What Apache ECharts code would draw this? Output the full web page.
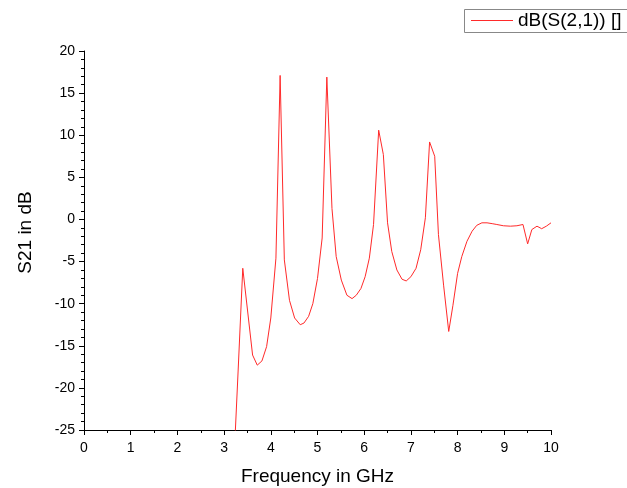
<!DOCTYPE html>
<html>
<head>
<meta charset="utf-8">
<script src="https://cdn.jsdelivr.net/npm/echarts@6/dist/echarts.min.js"></script>
<style>html,body{margin:0;padding:0;background:#fff}#c{width:627px;height:488px}</style>
</head>
<body>
<div id="c"></div>
<script>
var seriesName = 'dB(S(2,1)) []';
var freqGHz = [3.2, 3.3, 3.4, 3.61, 3.71, 3.81, 3.91, 4.0, 4.11, 4.2, 4.29, 4.4, 4.51, 4.63, 4.71, 4.81, 4.9, 5.0, 5.1, 5.2, 5.31, 5.4, 5.51, 5.63, 5.74, 5.83, 5.93, 6.02, 6.11, 6.2, 6.31, 6.41, 6.5, 6.59, 6.7, 6.81, 6.9, 7.0, 7.11, 7.21, 7.31, 7.4, 7.51, 7.59, 7.7, 7.81, 7.9, 8.0, 8.09, 8.2, 8.31, 8.41, 8.52, 8.63, 8.74, 8.84, 8.98, 9.13, 9.27, 9.4, 9.5, 9.59, 9.7, 9.8, 9.9, 10.0];
var s21dB = [-30, -18, -5.8, -16.1, -17.3, -16.8, -15.1, -11.7, -4.6, 17.1, -4.8, -9.6, -11.7, -12.5, -12.3, -11.5, -10.0, -7.0, -2.2, 16.9, 1.3, -4.4, -7.2, -9.0, -9.4, -9.0, -8.2, -6.8, -4.6, -0.6, 10.6, 7.7, -0.4, -3.8, -6.0, -7.1, -7.3, -6.8, -5.8, -3.6, 0.2, 9.2, 7.5, -1.8, -7.8, -13.3, -10.2, -6.4, -4.4, -2.6, -1.4, -0.7, -0.4, -0.4, -0.5, -0.6, -0.75, -0.8, -0.75, -0.6, -2.9, -1.2, -0.8, -1.1, -0.8, -0.4];

var data = freqGHz.map(function (f, i) { return [f, s21dB[i]]; });
var font = 'Liberation Sans, Arial, sans-serif';
var lineColor = '#ff2a2a';
var chart = echarts.init(document.getElementById('c'));
chart.setOption({
  animation: false,
  backgroundColor: '#fff',
  grid: { left: 84, right: 76, top: 51, bottom: 58, containLabel: false, outerBoundsMode: 'none' },
  graphic: [{
    type: 'rect', silent: true, z: 0,
    shape: { x: 464.5, y: 9.5, width: 200, height: 23 },
    style: { fill: '#fff', stroke: '#888', lineWidth: 1 }
  }],
  legend: {
    data: [seriesName],
    left: 465, top: 10,
    padding: [1, 0, 1, 6],
    borderWidth: 0,
    icon: 'rect', itemWidth: 42, itemHeight: 1, itemGap: 6,
    textStyle: { fontFamily: font, fontSize: 19, color: '#000' }
  },
  xAxis: {
    type: 'value', min: 0, max: 10, interval: 1,
    name: 'Frequency in GHz', nameLocation: 'middle', nameGap: 37,
    nameTextStyle: { fontFamily: font, fontSize: 19, color: '#000' },
    axisLine: { show: true, onZero: false, lineStyle: { color: '#000', width: 1 } },
    axisTick: { show: true, inside: false, length: 5, lineStyle: { color: '#000' } },
    minorTick: { show: true, splitNumber: 2, length: 3, lineStyle: { color: '#000' } },
    axisLabel: { fontFamily: font, fontSize: 14, color: '#000', margin: 11 },
    splitLine: { show: false }
  },
  yAxis: {
    type: 'value', min: -25, max: 20, interval: 5,
    name: 'S21 in dB', nameLocation: 'middle', nameGap: 49, nameRotate: 90,
    nameTextStyle: { fontFamily: font, fontSize: 19, color: '#000', padding: [0, 0, 0, 16] },
    axisLine: { show: true, onZero: false, lineStyle: { color: '#000', width: 1 } },
    axisTick: { show: true, inside: false, length: 5, lineStyle: { color: '#000' } },
    minorTick: { show: true, splitNumber: 5, length: 3, lineStyle: { color: '#000' } },
    axisLabel: { fontFamily: font, fontSize: 14, color: '#000', margin: 9 },
    splitLine: { show: false }
  },
  series: [{
    name: seriesName,
    type: 'line',
    data: data,
    showSymbol: false,
    symbol: 'none',
    clip: true,
    lineStyle: { color: lineColor, width: 1 },
    itemStyle: { color: lineColor }
  }]
});
</script>
</body>
</html>
